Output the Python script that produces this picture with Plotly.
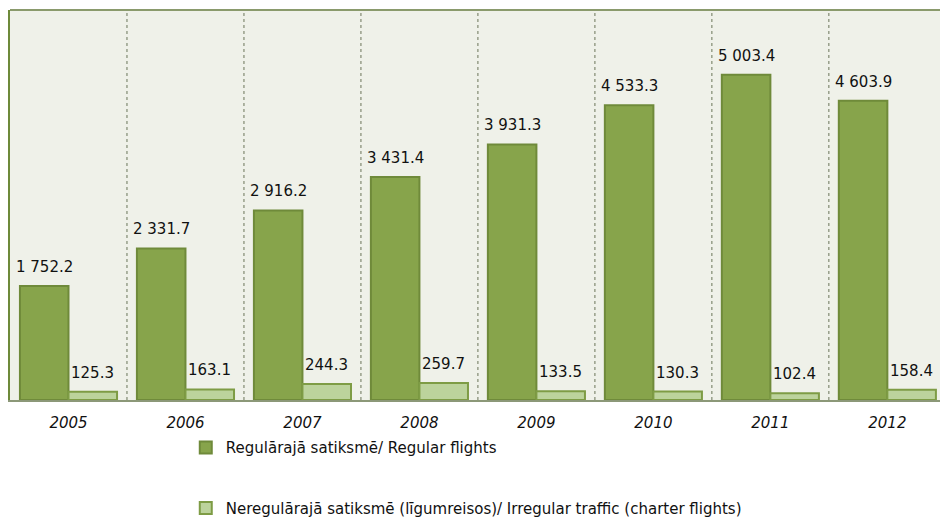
import plotly.graph_objects as go

years = ["2005", "2006", "2007", "2008", "2009", "2010", "2011", "2012"]
regular = [1752.2, 2331.7, 2916.2, 3431.4, 3931.3, 4533.3, 5003.4, 4603.9]
irregular = [125.3, 163.1, 244.3, 259.7, 133.5, 130.3, 102.4, 158.4]
names = ["Regulārajā satiksmē/ Regular flights",
         "Neregulārajā satiksmē (līgumreisos)/ Irregular traffic (charter flights)"]

font_family = "DejaVu Sans, Verdana, sans-serif"


def fmt(v):
    return f"{v:,.1f}".replace(",", " ")


fig = go.Figure()
fig.add_trace(go.Bar(
    x=years, y=regular, name=names[0], legendgroup="a",
    marker=dict(color="#87A44B", line=dict(color="#6F8A3A", width=2)),
))
fig.add_trace(go.Bar(
    x=years, y=irregular, name=names[1], legendgroup="b",
    marker=dict(color="#BCD39C", line=dict(color="#7E9C45", width=2)),
))

annotations = []
for series, dx in ((regular, -24), (irregular, 24)):
    for i, v in enumerate(series):
        annotations.append(dict(x=i, y=v, xref="x", yref="y", text=fmt(v), showarrow=False,
                                xshift=dx, yanchor="bottom", yshift=8,
                                font=dict(size=15, color="#111111", family=font_family)))

shapes = []
for i in range(len(years) - 1):
    shapes.append(dict(type="line", xref="x", yref="paper", x0=i + 0.5, x1=i + 0.5,
                       y0=0, y1=1, line=dict(color="#6B7559", width=1, dash="dot"), layer="below"))
shapes.append(dict(type="line", xref="paper", yref="paper", x0=0, x1=1, y0=1, y1=1,
                   line=dict(color="#8A9A6C", width=2)))

fig.update_layout(
    width=940, height=518,
    margin=dict(l=10, r=0, t=10, b=118, autoexpand=False),
    paper_bgcolor="white", plot_bgcolor="#EFF1E9",
    barmode="group", bargap=0.17, bargroupgap=0,
    font=dict(family=font_family, size=15, color="#111111"),
    shapes=shapes,
    annotations=annotations,
    showlegend=True,
    legend=dict(x=0.189, y=-0.08, xanchor="left", yanchor="top",
                traceorder="grouped", tracegroupgap=38,
                font=dict(size=15, color="#111111", family=font_family),
                bgcolor="rgba(0,0,0,0)", itemwidth=30),
    xaxis=dict(type="category", range=[-0.5, 7.45], showgrid=False, showline=True,
               linecolor="#8C9878", linewidth=2, ticks="",
               tickfont=dict(size=15, family=font_family, style="italic"),
               ticklabelstandoff=8),
    yaxis=dict(range=[0, 6000], showgrid=False, showticklabels=False, zeroline=False,
               showline=True, linecolor="#6E8A3A", linewidth=2, ticks=""),
)

fig.write_html("out.html", config={"displayModeBar": False},
               post_script="document.body.style.margin='0';")
